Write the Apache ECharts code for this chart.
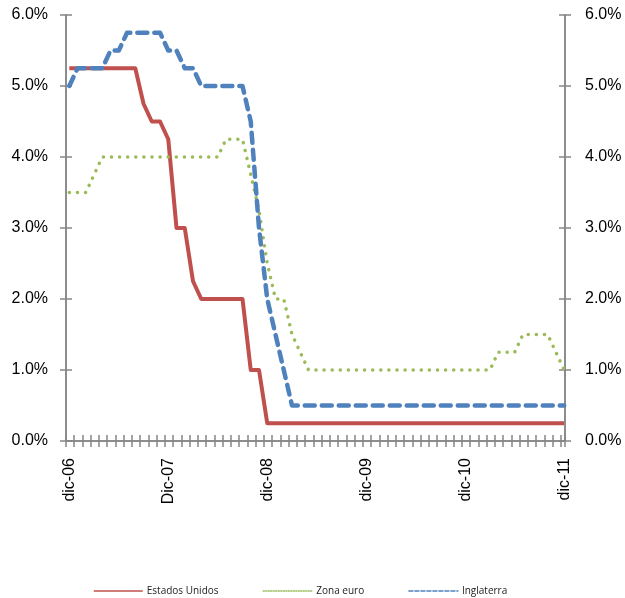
<!DOCTYPE html>
<html>
<head>
<meta charset="utf-8">
<script src="https://cdn.jsdelivr.net/npm/echarts@6/dist/echarts.min.js"></script>
<style>
  html, body { margin: 0; padding: 0; background: #fff; }
  #chart { width: 625px; height: 598px; }
</style>
</head>
<body>
<div id="chart"></div>
<script>
// meses dic-06 .. dic-11
const categorias = [
  'dic-06', 'ene-07', 'feb-07', 'mar-07', 'abr-07', 'may-07', 'jun-07', 'jul-07', 'ago-07', 'sep-07', 'oct-07', 'nov-07',
  'Dic-07', 'ene-08', 'feb-08', 'mar-08', 'abr-08', 'may-08', 'jun-08', 'jul-08', 'ago-08', 'sep-08', 'oct-08', 'nov-08',
  'dic-08', 'ene-09', 'feb-09', 'mar-09', 'abr-09', 'may-09', 'jun-09', 'jul-09', 'ago-09', 'sep-09', 'oct-09', 'nov-09',
  'dic-09', 'ene-10', 'feb-10', 'mar-10', 'abr-10', 'may-10', 'jun-10', 'jul-10', 'ago-10', 'sep-10', 'oct-10', 'nov-10',
  'dic-10', 'ene-11', 'feb-11', 'mar-11', 'abr-11', 'may-11', 'jun-11', 'jul-11', 'ago-11', 'sep-11', 'oct-11', 'nov-11',
  'dic-11'
]

const estadosUnidos = [
  5.25, 5.25, 5.25, 5.25, 5.25, 5.25, 5.25, 5.25, 5.25, 4.75, 4.5, 4.5,
  4.25, 3, 3, 2.25, 2, 2, 2, 2, 2, 2, 1, 1,
  0.25, 0.25, 0.25, 0.25, 0.25, 0.25, 0.25, 0.25, 0.25, 0.25, 0.25, 0.25,
  0.25, 0.25, 0.25, 0.25, 0.25, 0.25, 0.25, 0.25, 0.25, 0.25, 0.25, 0.25,
  0.25, 0.25, 0.25, 0.25, 0.25, 0.25, 0.25, 0.25, 0.25, 0.25, 0.25, 0.25,
  0.25
]

const zonaEuro = [
  3.5, 3.5, 3.5, 3.75, 4, 4, 4, 4, 4, 4, 4, 4,
  4, 4, 4, 4, 4, 4, 4, 4.25, 4.25, 4.25, 3.75, 3.25,
  2.5, 2, 2, 1.5, 1.25, 1, 1, 1, 1, 1, 1, 1,
  1, 1, 1, 1, 1, 1, 1, 1, 1, 1, 1, 1,
  1, 1, 1, 1, 1.25, 1.25, 1.25, 1.5, 1.5, 1.5, 1.5, 1.25,
  1
]

const inglaterra = [
  5, 5.25, 5.25, 5.25, 5.25, 5.5, 5.5, 5.75, 5.75, 5.75, 5.75, 5.75,
  5.5, 5.5, 5.25, 5.25, 5, 5, 5, 5, 5, 5, 4.5, 3,
  2, 1.5, 1, 0.5, 0.5, 0.5, 0.5, 0.5, 0.5, 0.5, 0.5, 0.5,
  0.5, 0.5, 0.5, 0.5, 0.5, 0.5, 0.5, 0.5, 0.5, 0.5, 0.5, 0.5,
  0.5, 0.5, 0.5, 0.5, 0.5, 0.5, 0.5, 0.5, 0.5, 0.5, 0.5, 0.5,
  0.5
]

const colRojo = '#C0504D'
const colVerde = '#9BBB59'
const colAzul = '#4F81BD'
const colEje = '#868686'
const fuente = 'Liberation Sans, Arial, sans-serif'

// month index axis, slightly padded like the Excel date axis
const xMin = -0.4
const xMax = 60.1
const marcasX = []
for (let k = xMin; k < xMax; k += 1) marcasX.push(+k.toFixed(1))
marcasX.push(xMax)
const etiquetasX = [0, 12, 24, 36, 48, 60]

const serie = arr => arr.map((v, i) => [i, v])

const chart = echarts.init(document.getElementById('chart'))

// Excel-style "cross" ticks: each axis is doubled, one with outside ticks, one with inside ticks
function ejeY(position, inside, showLabel) {
  return {
    type: 'value',
    position: position,
    min: 0,
    max: 6,
    interval: 1,
    splitLine: { show: false },
    axisLine: { show: true, onZero: false, lineStyle: { color: colEje, width: 1.5 } },
    axisTick: { show: true, inside: inside, length: 6, lineStyle: { color: colEje, width: 1.5 } },
    axisLabel: {
      show: showLabel,
      margin: position === 'left' ? 18 : 20,
      color: '#000',
      fontFamily: fuente,
      fontSize: 16,
      formatter: v => v.toFixed(1) + '%'
    }
  }
}

function ejeX(inside, showLabel) {
  return {
    type: 'value',
    position: 'bottom',
    min: xMin,
    max: xMax,
    axisLine: { show: true, onZero: false, lineStyle: { color: colEje, width: 1.5 } },
    axisTick: { show: true, inside: inside, customValues: marcasX, length: 6, lineStyle: { color: colEje, width: 1.5 } },
    axisLabel: {
      show: showLabel,
      customValues: etiquetasX,
      formatter: v => categorias[Math.round(v)],
      rotate: 90,
      margin: 17,
      color: '#000',
      fontFamily: fuente,
      fontSize: 16
    },
    splitLine: { show: false }
  }
}

const option = {
  animation: false,
  grid: { left: 66, right: 60, top: 15, bottom: 157, containLabel: false },
  xAxis: [ejeX(false, true), ejeX(true, false)],
  yAxis: [ejeY('left', false, true), ejeY('right', false, true), ejeY('left', true, false), ejeY('right', true, false)],
  legend: {
    left: 88,
    top: 581,
    itemWidth: 49,
    itemHeight: 8,
    itemGap: 44,
    itemStyle: { opacity: 0 },
    textStyle: { fontFamily: 'Open Sans, sans-serif', fontSize: 10, color: '#222', padding: [0, 0, 0, -1] },
    data: [
      { name: 'Estados Unidos', lineStyle: { width: 1.5, type: 'solid' } },
      { name: 'Zona euro', lineStyle: { width: 1.5, type: [1, 1.5] } },
      { name: 'Inglaterra', lineStyle: { width: 1.5, type: [4, 2] } }
    ]
  },
  series: [
    {
      name: 'Estados Unidos',
      type: 'line',
      data: serie(estadosUnidos),
      symbol: 'none',
      lineStyle: { color: colRojo, width: 4, join: 'round' },
      itemStyle: { color: colRojo }
    },
    {
      name: 'Zona euro',
      type: 'line',
      data: serie(zonaEuro),
      symbol: 'none',
      lineStyle: { color: colVerde, width: 3.5, type: [0.1, 8], cap: 'round', join: 'round' },
      itemStyle: { color: colVerde }
    },
    {
      name: 'Inglaterra',
      type: 'line',
      data: serie(inglaterra),
      symbol: 'none',
      lineStyle: { color: colAzul, width: 4.5, type: [10, 7], cap: 'round', join: 'round' },
      itemStyle: { color: colAzul }
    }
  ]
}

chart.setOption(option)
</script>
</body>
</html>
